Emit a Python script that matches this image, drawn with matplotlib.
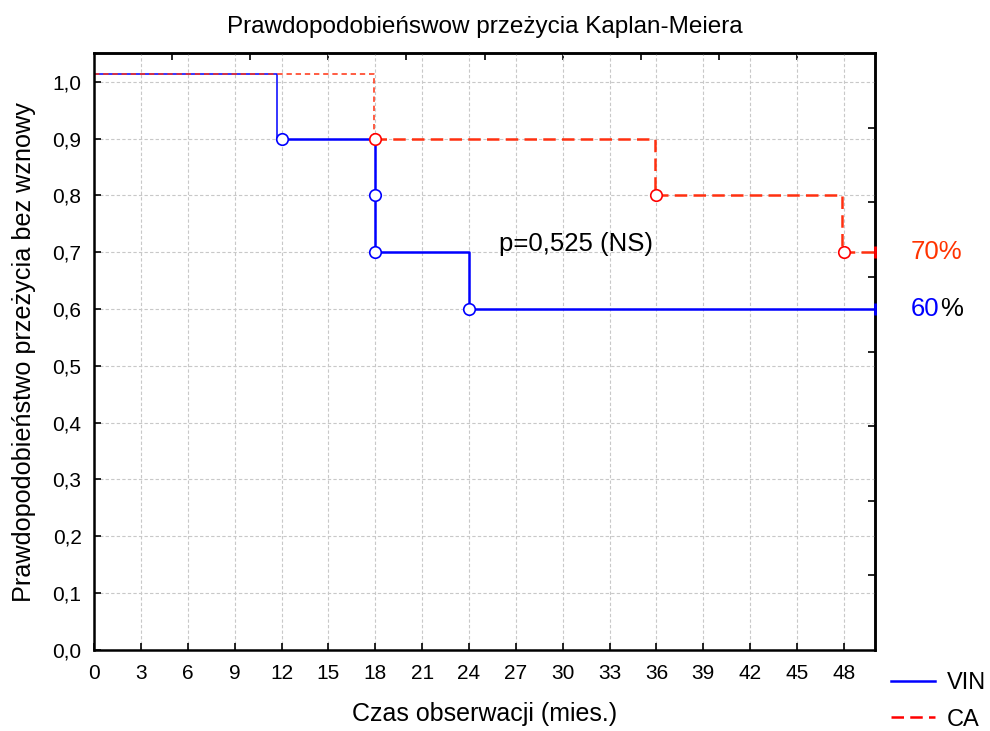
import matplotlib
matplotlib.use("Agg")
import matplotlib.pyplot as plt
from matplotlib.lines import Line2D
import numpy as np

plt.rcParams['font.family'] = ['Liberation Sans', 'DejaVu Sans']

# ---- data ----
title = "Prawdopodobieńswow przeżycia Kaplan-Meiera"
xlabel = "Czas obserwacji (mies.)"
ylabel = "Prawdopodobieństwo przeżycia bez wznowy"
p_text = "p=0,525 (NS)"
x_ticks = list(range(0, 49, 3))
y_ticks = [0.0, 0.1, 0.2, 0.3, 0.4, 0.5, 0.6, 0.7, 0.8, 0.9, 1.0]
y_tick_labels = ["0,0", "0,1", "0,2", "0,3", "0,4", "0,5", "0,6", "0,7", "0,8", "0,9", "1,0"]

# VIN group step curve (time, survival)
vin_t = [0, 11.7, 18, 24, 50]
vin_s = [1.014, 0.9, 0.7, 0.6, 0.6]
vin_mark_t = [12, 18, 18, 24]
vin_mark_s = [0.9, 0.8, 0.7, 0.6]
vin_end_t, vin_end_s = 50, 0.6

# CA group step curve
ca_t = [0, 17.9, 35.9, 47.9, 50]
ca_s = [1.014, 0.9, 0.8, 0.7, 0.7]
ca_mark_t = [18, 36, 48]
ca_mark_s = [0.9, 0.8, 0.7]
ca_end_t, ca_end_s = 50, 0.7

blue = "#0000ff"
red = "#ff0000"

fig = plt.figure(figsize=(9.9, 7.31), dpi=100)
ax = fig.add_axes([0.095, 0.111, 0.789, 0.816])
ax.set_xlim(0, 50)
ax.set_ylim(0, 1.05)

ax.set_xticks(x_ticks)
ax.set_xticklabels([str(v) for v in x_ticks])
ax.set_yticks(y_ticks)
ax.set_yticklabels(y_tick_labels)
ax.tick_params(direction='in', length=5, width=1.2, labelsize=15)
ax.tick_params(axis='x', pad=10)
ax.tick_params(axis='y', pad=9)
ax.grid(True, color='#c8c8c8', linestyle=(0, (3, 2)), linewidth=0.8)
ax.set_axisbelow(True)
for sp in ax.spines.values():
    sp.set_linewidth(1.8)

# secondary ticks on top and right (no labels)
sec_x = ax.secondary_xaxis('top')
sec_x.set_xticks(list(range(5, 50, 5)))
sec_x.tick_params(direction='in', length=5, width=1.2, labelbottom=False, labeltop=False)
sec_y = ax.secondary_yaxis('right')
sec_y.set_yticks([k * 1.05 / 8 for k in range(1, 8)])
sec_y.tick_params(direction='in', length=5, width=1.2, labelright=False)
sec_x.spines['top'].set_linewidth(1.8)
sec_y.spines['right'].set_linewidth(1.8)

def draw_curve(t, s, color, ls_thin, ls_thick, lw_thin, lw_thick):
    # first segment (before first event) drawn thinner
    ax.plot([t[0], t[1], t[1]], [s[0], s[0], s[1]], color=color, lw=lw_thin,
            linestyle=ls_thin, solid_capstyle='butt')
    ax.step(t[1:], s[1:], where='post', color=color, lw=lw_thick,
            linestyle=ls_thick)

draw_curve(vin_t, vin_s, blue, '-', '-', 1.1, 1.8)
ax.plot(vin_mark_t, vin_mark_s, 'o', ms=8.3, mfc='white', mec=blue, mew=1.2, zorder=4)
ax.plot([vin_end_t], [vin_end_s], marker='|', ms=9, mew=2, color=blue, clip_on=False, zorder=4)

draw_curve(ca_t, ca_s, "#ff3010", (0, (3.5, 2.5)), (0, (5, 2.5)), 1.1, 1.8)
ax.plot(ca_mark_t, ca_mark_s, 'o', ms=8.3, mfc='white', mec=red, mew=1.2, zorder=5)
ax.plot([ca_end_t], [ca_end_s], marker='|', ms=9, mew=2, color=red, clip_on=False, zorder=5)

ax.text(25.9, 0.714, p_text, fontsize=18.5, va='center', ha='left')

# end percentages outside axes
ax.text(52.3, 0.7, "70%", color="#ff3300", fontsize=18.5, va='center', ha='left', clip_on=False)
t60 = ax.text(52.3, 0.6, "60", color=blue, fontsize=18.5, va='center', ha='left', clip_on=False)
fig.canvas.draw()
bb = t60.get_window_extent()
x_pc = ax.transData.inverted().transform((bb.x1, 0))[0]
ax.text(x_pc, 0.6, "%", color='black', fontsize=18.5, va='center', ha='left', clip_on=False)

ax.set_title(title, fontsize=17.5, pad=15)
ax.set_xlabel(xlabel, fontsize=18, labelpad=14)
ax.set_ylabel(ylabel, fontsize=18.2, labelpad=12)

handles = [Line2D([0], [0], color=blue, lw=1.8),
           Line2D([0], [0], color=red, lw=1.8, linestyle=(0, (5, 2.5)))]
fig.legend(handles, ["VIN", "CA"], loc='center left', bbox_to_anchor=(891 / 990, 1 - 701.5 / 731),
           frameon=False, fontsize=17, handlelength=1.85, handletextpad=0.5,
           labelspacing=0.6, borderaxespad=0.0, borderpad=0.0)

fig.savefig("out.png", dpi=100)
